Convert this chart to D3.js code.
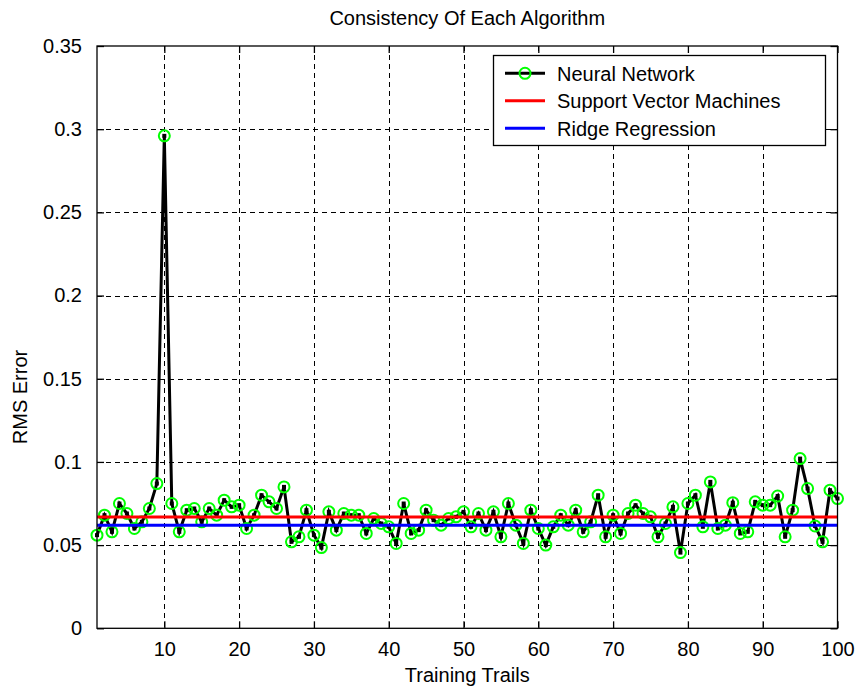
<!DOCTYPE html>
<html>
<head>
<meta charset="utf-8">
<script src="https://cdn.jsdelivr.net/npm/d3@7"></script>
<style>
  html, body { margin: 0; padding: 0; background: #ffffff; }
  svg { display: block; font-family: "Liberation Sans", Arial, sans-serif; }
</style>
</head>
<body>
<svg id="chart" width="858" height="691"></svg>
<script>
// RMS error of the neural network over 100 training trails
const trials = d3.range(1, 101);
const nnError = [
  0.056, 0.068, 0.058, 0.075, 0.069, 0.060, 0.064, 0.072, 0.087, 0.296,
  0.075, 0.058, 0.071, 0.072, 0.064, 0.072, 0.068, 0.077, 0.073, 0.074,
  0.060, 0.068, 0.080, 0.076, 0.072, 0.085, 0.052, 0.055, 0.071, 0.056,
  0.0485, 0.070, 0.059, 0.069, 0.068, 0.068, 0.057, 0.066, 0.063, 0.061,
  0.051, 0.075, 0.057, 0.059, 0.071, 0.065, 0.062, 0.066, 0.067, 0.070,
  0.061, 0.069, 0.059, 0.070, 0.055, 0.075, 0.062, 0.051, 0.071, 0.060,
  0.050, 0.061, 0.068, 0.062, 0.071, 0.058, 0.064, 0.080, 0.055, 0.068,
  0.057, 0.069, 0.074, 0.069, 0.067, 0.055, 0.063, 0.073, 0.0455, 0.075,
  0.080, 0.061, 0.088, 0.060, 0.062, 0.0755, 0.057, 0.058, 0.076, 0.074,
  0.074, 0.0795, 0.055, 0.071, 0.102, 0.084, 0.0615, 0.052, 0.083, 0.078
];
// Constant errors of the two other algorithms
const svmError = 0.0669;
const ridgeError = 0.0619;

const xTicks = [10, 20, 30, 40, 50, 60, 70, 80, 90, 100];
const yTicks = [0, 0.05, 0.1, 0.15, 0.2, 0.25, 0.3, 0.35];
const yTickLabels = ["0", "0.05", "0.1", "0.15", "0.2", "0.25", "0.3", "0.35"];

const legendLabels = ["Neural Network", "Support Vector Machines", "Ridge Regression"];

const plot = { left: 97, right: 837.5, top: 46, bottom: 628.3 };
const fontSize = 20;

const svg = d3.select("#chart");

const x = d3.scaleLinear().domain([1, 100]).range([plot.left, plot.right]);
const y = d3.scaleLinear().domain([0, 0.35]).range([plot.bottom, plot.top]);

// Grid lines (dashed)
const grid = svg.append("g").attr("stroke", "#000").attr("stroke-width", 1)
  .attr("stroke-dasharray", "5,4").attr("shape-rendering", "crispEdges");
grid.selectAll("line.gx").data(xTicks.filter(d => d < 100)).join("line")
  .attr("x1", d => Math.round(x(d)) + 0.5).attr("x2", d => Math.round(x(d)) + 0.5)
  .attr("y1", plot.top).attr("y2", plot.bottom);
grid.selectAll("line.gy").data(yTicks.filter(d => d > 0 && d < 0.35)).join("line")
  .attr("x1", plot.left).attr("x2", plot.right)
  .attr("y1", d => Math.round(y(d)) + 0.5).attr("y2", d => Math.round(y(d)) + 0.5);

// Axes: bottom/left with labels, top/right ticks only (box)
const tickLen = 7;
const axisBottom = d3.axisBottom(x).tickValues(xTicks).tickSizeInner(-tickLen).tickSizeOuter(0).tickPadding(tickLen + 7);
const axisTop = d3.axisTop(x).tickValues(xTicks).tickSizeInner(-tickLen).tickSizeOuter(0).tickFormat("");
const axisLeft = d3.axisLeft(y).tickValues(yTicks).tickSizeInner(-tickLen).tickSizeOuter(0)
  .tickPadding(tickLen + 8).tickFormat((d, i) => yTickLabels[i]);
const axisRight = d3.axisRight(y).tickValues(yTicks).tickSizeInner(-tickLen).tickSizeOuter(0).tickFormat("");

function styleAxis(g) {
  g.select(".domain").remove();
  g.selectAll(".tick line").attr("stroke", "#000").attr("stroke-width", 1.3);
  g.selectAll(".tick text").attr("fill", "#000").attr("font-size", fontSize)
    .attr("font-family", "'Liberation Sans', Arial, sans-serif");
}
svg.append("g").attr("transform", `translate(0,${plot.bottom})`).call(axisBottom).call(styleAxis);
svg.append("g").attr("transform", `translate(0,${plot.top})`).call(axisTop).call(styleAxis);
svg.append("g").attr("transform", `translate(${plot.left},0)`).call(axisLeft).call(styleAxis);
svg.append("g").attr("transform", `translate(${plot.right},0)`).call(axisRight).call(styleAxis);

// Data: neural network line with green circle markers
const nnLine = d3.line().x((d, i) => x(trials[i])).y(d => y(d));
svg.append("path").datum(nnError).attr("d", nnLine)
  .attr("fill", "none").attr("stroke", "#000").attr("stroke-width", 3).attr("stroke-linejoin", "miter");
svg.append("g").selectAll("rect").data(nnError).join("rect")
  .attr("x", (d, i) => x(trials[i]) - 2).attr("y", d => y(d) - 2)
  .attr("width", 4).attr("height", 4).attr("fill", "#000");
svg.append("g").selectAll("circle").data(nnError).join("circle")
  .attr("cx", (d, i) => x(trials[i])).attr("cy", d => y(d)).attr("r", 5.5)
  .attr("fill", "none").attr("stroke", "#00ff00").attr("stroke-width", 2);

// Constant reference lines
const flat = v => d3.line()([[x(1), y(v)], [x(100), y(v)]]);
svg.append("path").attr("d", flat(svmError)).attr("stroke", "#ff0000").attr("stroke-width", 3).attr("fill", "none");
svg.append("path").attr("d", flat(ridgeError)).attr("stroke", "#0000ff").attr("stroke-width", 3).attr("fill", "none");

// Axes box
svg.append("rect").attr("x", plot.left).attr("y", plot.top)
  .attr("width", plot.right - plot.left).attr("height", plot.bottom - plot.top)
  .attr("fill", "none").attr("stroke", "#000").attr("stroke-width", 1.3);

// Title and axis labels
svg.append("text").attr("x", (plot.left + plot.right) / 2).attr("y", 25)
  .attr("text-anchor", "middle").attr("font-size", fontSize).text("Consistency Of Each Algorithm");
svg.append("text").attr("x", (plot.left + plot.right) / 2).attr("y", 682)
  .attr("text-anchor", "middle").attr("font-size", fontSize).text("Training Trails");
svg.append("text").attr("transform", "translate(27,397) rotate(-90)")
  .attr("text-anchor", "middle").attr("font-size", fontSize).text("RMS Error");

// Legend
const legend = svg.append("g");
legend.append("rect").attr("x", 493.5).attr("y", 55.5).attr("width", 332).attr("height", 90)
  .attr("fill", "#fff").attr("stroke", "#000").attr("stroke-width", 1.3);
const rowY = [73.3, 100.7, 128.3];
const rowColor = ["#000", "#ff0000", "#0000ff"];
legendLabels.forEach((label, i) => {
  legend.append("line").attr("x1", 505).attr("x2", 545).attr("y1", rowY[i]).attr("y2", rowY[i])
    .attr("stroke", rowColor[i]).attr("stroke-width", 3);
  if (i === 0) {
    legend.append("circle").attr("cx", 525).attr("cy", rowY[i]).attr("r", 5.5)
      .attr("fill", "none").attr("stroke", "#00ff00").attr("stroke-width", 2);
  }
  legend.append("text").attr("x", 557).attr("y", rowY[i]).attr("dy", "0.36em")
    .attr("font-size", fontSize).text(label);
});
</script>
</body>
</html>
